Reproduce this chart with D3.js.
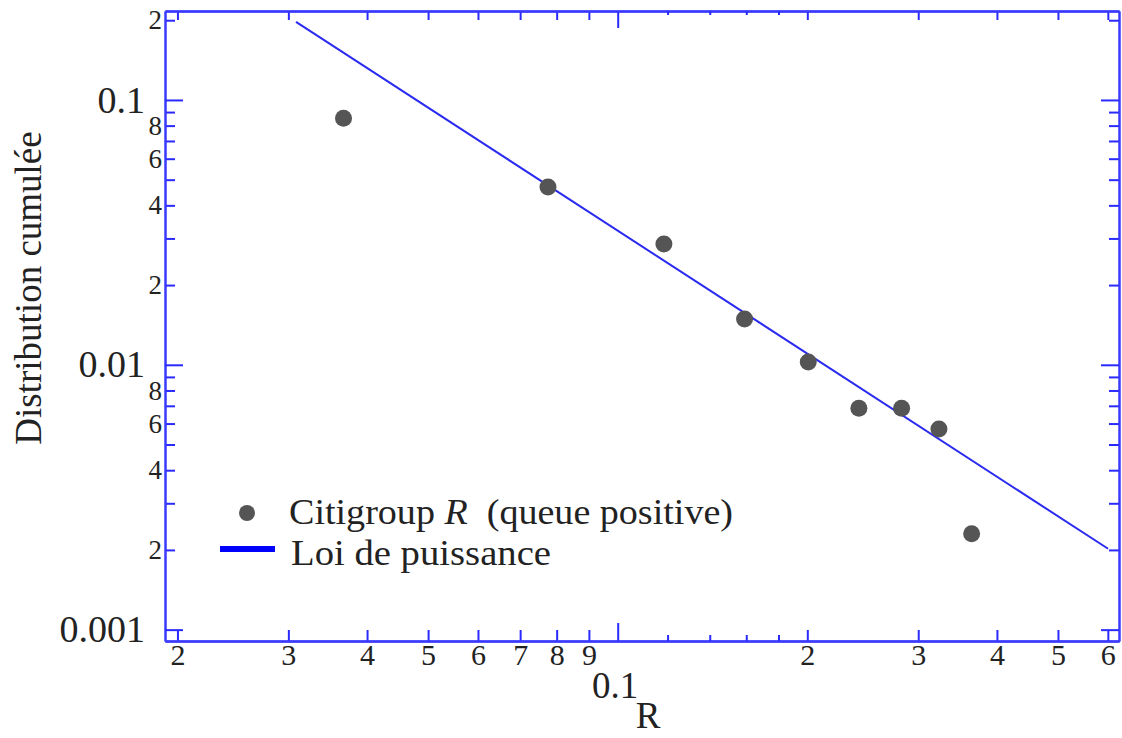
<!DOCTYPE html>
<meta charset="utf-8">
<style>
body{margin:0;background:#fff;font-family:"Liberation Serif","Times New Roman",serif;}
.axis path{stroke:#3a3aff;stroke-width:2;}
.axis line{stroke:#2a2aff;stroke-width:2;}
.axis text{fill:#222;font-family:"Liberation Serif",serif;}
</style>
<body>
<div id="container"></div>
<script src="https://d3js.org/d3.v7.min.js"></script>
<script>

var width = 1122,
    height = 738;

// data
var pointsR   = [0.0367, 0.0775, 0.1184, 0.159, 0.2007, 0.2415, 0.2823, 0.3236, 0.3647];
var pointsCdf = [0.0853, 0.0469, 0.0286, 0.0149, 0.01024, 0.00686, 0.00686, 0.00572, 0.0023];
var fitR   = [0.03085, 0.6006];
var fitCdf = [0.197, 0.00202];

// axis ticks
var xMajor = [0.02, 0.03, 0.04, 0.05, 0.06, 0.07, 0.08, 0.09, 0.2, 0.3, 0.4, 0.5, 0.6];
var xMajorLabels = ["2", "3", "4", "5", "6", "7", "8", "9", "2", "3", "4", "5", "6"];
var xDecade = [0.1];
var xDecadeLabels = ["0.1"];
var xMinor = [0.12, 0.14, 0.16, 0.18];
var yMinor = [0.002, 0.003, 0.004, 0.005, 0.006, 0.007, 0.008, 0.009,
              0.02, 0.03, 0.04, 0.05, 0.06, 0.07, 0.08, 0.09, 0.2];
var yMinorLabelled = [0.002, 0.004, 0.006, 0.008, 0.02, 0.04, 0.06, 0.08, 0.2];
var yMinorLabels = ["2", "4", "6", "8", "2", "4", "6", "8", "2"];
var yDecade = [0.001, 0.01, 0.1];
var yDecadeLabels = ["0.001", "0.01", "0.1"];

var mLeft = 165, mRight = 1119, mTop = 11, mBottom = 641;

var x = d3.scaleLog().domain([0.01911, 0.625]).range([mLeft, mRight]);
var y = d3.scaleLog().domain([0.000906, 0.2167]).range([mBottom, mTop]);

var svg = d3.select("#container").append("svg")
    .attr("width", width)
    .attr("height", height);

function lab(vals, labels) {
  return function(d) { var i = vals.indexOf(d); return i < 0 ? "" : labels[i]; };
}

// bottom
svg.append("g").attr("class", "axis").attr("transform", "translate(0," + mBottom + ")")
    .call(d3.axisBottom(x).tickValues(xMajor).tickSizeInner(-11).tickSizeOuter(0)
      .tickPadding(3).tickFormat(lab(xMajor, xMajorLabels)))
    .selectAll("text").style("font-size", "30px");
svg.append("g").attr("class", "axis").attr("transform", "translate(0," + mBottom + ")")
    .call(d3.axisBottom(x).tickValues(xDecade).tickSizeInner(-18).tickSizeOuter(0)
      .tickPadding(31).tickFormat(lab(xDecade, xDecadeLabels)))
    .selectAll("text").style("font-size", "37px").attr("dx", -3);
svg.append("g").attr("class", "axis").attr("transform", "translate(0," + mBottom + ")")
    .call(d3.axisBottom(x).tickValues(xMinor).tickSizeInner(-6).tickSizeOuter(0).tickFormat(""));

// top
svg.append("g").attr("class", "axis").attr("transform", "translate(0," + mTop + ")")
    .call(d3.axisTop(x).tickValues(xMajor).tickSizeInner(-9).tickSizeOuter(0).tickFormat(""));
svg.append("g").attr("class", "axis").attr("transform", "translate(0," + mTop + ")")
    .call(d3.axisTop(x).tickValues(xDecade).tickSizeInner(-17).tickSizeOuter(0).tickFormat(""));
svg.append("g").attr("class", "axis").attr("transform", "translate(0," + mTop + ")")
    .call(d3.axisTop(x).tickValues(xMinor).tickSizeInner(-4).tickSizeOuter(0).tickFormat(""));

// left
svg.append("g").attr("class", "axis").attr("transform", "translate(" + mLeft + ",0)")
    .call(d3.axisLeft(y).tickValues(yMinor).tickSizeInner(-10).tickSizeOuter(0)
      .tickPadding(3).tickFormat(lab(yMinorLabelled, yMinorLabels)))
    .selectAll("text").style("font-size", "27px");
svg.append("g").attr("class", "axis").attr("transform", "translate(" + mLeft + ",0)")
    .call(d3.axisLeft(y).tickValues(yDecade).tickSizeInner(-18).tickSizeOuter(0)
      .tickPadding(20).tickFormat(lab(yDecade, yDecadeLabels)))
    .selectAll("text").style("font-size", "38px");

// right
svg.append("g").attr("class", "axis").attr("transform", "translate(" + mRight + ",0)")
    .call(d3.axisRight(y).tickValues(yMinor).tickSizeInner(-10).tickSizeOuter(0).tickFormat(""));
svg.append("g").attr("class", "axis").attr("transform", "translate(" + mRight + ",0)")
    .call(d3.axisRight(y).tickValues(yDecade).tickSizeInner(-18).tickSizeOuter(0).tickFormat(""));

// power law fit
var line = d3.line()
    .x(function(d) { return x(d[0]); })
    .y(function(d) { return y(d[1]); });

svg.append("path")
    .datum(d3.zip(fitR, fitCdf))
    .attr("d", line)
    .style("stroke", "#2a2af0")
    .style("stroke-width", 2)
    .style("fill", "none");

svg.selectAll("circle.pt")
    .data(d3.zip(pointsR, pointsCdf))
  .enter().append("circle")
    .attr("class", "pt")
    .attr("cx", function(d) { return x(d[0]); })
    .attr("cy", function(d) { return y(d[1]); })
    .attr("r", 8.5)
    .style("fill", "#555");

// axis titles
svg.append("text")
    .attr("x", 648).attr("y", 728)
    .attr("text-anchor", "middle")
    .style("font-size", "37px").style("fill", "#222")
    .text("R");

svg.append("text")
    .attr("transform", "translate(41,288) rotate(-90)")
    .attr("text-anchor", "middle")
    .style("font-size", "37px").style("fill", "#222")
    .text("Distribution cumulée");

// legend
var legend = svg.append("g");
legend.append("circle").attr("cx", 247).attr("cy", 513).attr("r", 8).style("fill", "#555");
legend.append("text").attr("x", 289).attr("y", 524).style("font-size", "36px").style("fill", "#222")
    .attr("textLength", 444).attr("lengthAdjust", "spacingAndGlyphs")
    .html("Citigroup <tspan font-style='italic'>R</tspan>&#160; (queue positive)");
legend.append("line").attr("x1", 220).attr("x2", 275).attr("y1", 549).attr("y2", 549)
    .style("stroke", "#0000ff").style("stroke-width", 6);
legend.append("text").attr("x", 291).attr("y", 565).style("font-size", "36px").style("fill", "#222")
    .attr("textLength", 260).attr("lengthAdjust", "spacingAndGlyphs")
    .text("Loi de puissance");

</script>
</body>
</html>
